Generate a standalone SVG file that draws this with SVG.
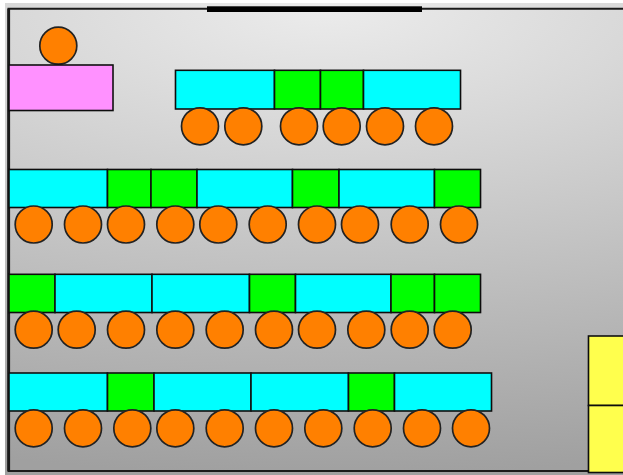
<svg xmlns="http://www.w3.org/2000/svg" width="623" height="475" viewBox="0 0 623 475">
<style>
.s{stroke:#111;stroke-width:1.6;filter:url(#sh)}
.c{fill:#00ffff}.g{fill:#00ff00}.p{fill:#ff91ff}.y{fill:#ffff4d}
circle{fill:#ff8000;stroke:#222;stroke-width:1.7;filter:url(#sh)}
</style>
<defs>
<radialGradient id="bg" gradientUnits="userSpaceOnUse" cx="0" cy="0" r="470" gradientTransform="translate(325 5) scale(2.6 1)">
<stop offset="0" stop-color="#ececec"/><stop offset="1" stop-color="#a0a0a0"/>
</radialGradient>
<filter id="sh" x="-10%" y="-10%" width="120%" height="125%">
<feGaussianBlur in="SourceGraphic" stdDeviation="0.35"/>
</filter>
</defs>
<rect width="623" height="475" fill="#fff"/>
<rect x="5" y="3" width="618" height="472" fill="url(#bg)"/>
<g id="room" fill="none" stroke="#1a1a1a">
<path d="M623 8.7H8.5V471H623" stroke-width="2"/>
<path d="M8.7 8.7V471" stroke-width="2.8"/>
<rect id="board" x="207" y="6.3" width="215" height="5.7" fill="#000" stroke="none"/>
</g>
<g id="teacher">
<circle cx="58.3" cy="45.7" r="18.5"/>
<rect class="s p" x="9" y="65" width="104" height="45.5"/>
</g>
<g id="row1">
<rect class="s c" x="175.5" y="70.3" width="99" height="38.7"/>
<rect class="s g" x="274.5" y="70.3" width="46" height="38.7"/>
<rect class="s g" x="320.5" y="70.3" width="43" height="38.7"/>
<rect class="s c" x="363.5" y="70.3" width="97" height="38.7"/>
<circle cx="200" cy="126.3" r="18.5"/><circle cx="243.3" cy="126.3" r="18.5"/><circle cx="299" cy="126.3" r="18.5"/><circle cx="341.7" cy="126.3" r="18.5"/><circle cx="385" cy="126.3" r="18.5"/><circle cx="434" cy="126.3" r="18.5"/>
</g>
<g id="row2">
<rect class="s c" x="9" y="169.5" width="98.5" height="38"/>
<rect class="s g" x="107.5" y="169.5" width="43.5" height="38"/>
<rect class="s g" x="151" y="169.5" width="46" height="38"/>
<rect class="s c" x="197" y="169.5" width="95.5" height="38"/>
<rect class="s g" x="292.5" y="169.5" width="46.5" height="38"/>
<rect class="s c" x="339" y="169.5" width="95.5" height="38"/>
<rect class="s g" x="434.5" y="169.5" width="46" height="38"/>
<circle cx="33.7" cy="224.5" r="18.5"/><circle cx="83" cy="224.5" r="18.5"/><circle cx="126" cy="224.5" r="18.5"/><circle cx="175.3" cy="224.5" r="18.5"/><circle cx="218.3" cy="224.5" r="18.5"/><circle cx="267.7" cy="224.5" r="18.5"/><circle cx="317" cy="224.5" r="18.5"/><circle cx="360" cy="224.5" r="18.5"/><circle cx="409.7" cy="224.5" r="18.5"/><circle cx="459" cy="224.5" r="18.5"/>
</g>
<g id="row3">
<rect class="s g" x="9" y="274.3" width="46" height="38.2"/>
<rect class="s c" x="55" y="274.3" width="97" height="38.2"/>
<rect class="s c" x="152" y="274.3" width="97.5" height="38.2"/>
<rect class="s g" x="249.5" y="274.3" width="46" height="38.2"/>
<rect class="s c" x="295.5" y="274.3" width="95.5" height="38.2"/>
<rect class="s g" x="391" y="274.3" width="43.5" height="38.2"/>
<rect class="s g" x="434.5" y="274.3" width="46" height="38.2"/>
<circle cx="33.7" cy="329.7" r="18.5"/><circle cx="76.7" cy="329.7" r="18.5"/><circle cx="126" cy="329.7" r="18.5"/><circle cx="175.3" cy="329.7" r="18.5"/><circle cx="224.7" cy="329.7" r="18.5"/><circle cx="274" cy="329.7" r="18.5"/><circle cx="317" cy="329.7" r="18.5"/><circle cx="366.3" cy="329.7" r="18.5"/><circle cx="409.7" cy="329.7" r="18.5"/><circle cx="452.7" cy="329.7" r="18.5"/>
</g>
<g id="row4">
<rect class="s c" x="9" y="373" width="98.5" height="38"/>
<rect class="s g" x="107.5" y="373" width="46.5" height="38"/>
<rect class="s c" x="154" y="373" width="97" height="38"/>
<rect class="s c" x="251" y="373" width="97.5" height="38"/>
<rect class="s g" x="348.5" y="373" width="46" height="38"/>
<rect class="s c" x="394.5" y="373" width="97" height="38"/>
<circle cx="33.7" cy="428.3" r="18.5"/><circle cx="83" cy="428.3" r="18.5"/><circle cx="132.3" cy="428.3" r="18.5"/><circle cx="175.3" cy="428.3" r="18.5"/><circle cx="224.7" cy="428.3" r="18.5"/><circle cx="274" cy="428.3" r="18.5"/><circle cx="323.3" cy="428.3" r="18.5"/><circle cx="372.7" cy="428.3" r="18.5"/><circle cx="422" cy="428.3" r="18.5"/><circle cx="471" cy="428.3" r="18.5"/>
</g>
<g id="cabinets">
<rect class="s y" x="588.5" y="336" width="40" height="69.5"/>
<rect class="s y" x="588.5" y="405.5" width="40" height="67"/>
</g>
</svg>
